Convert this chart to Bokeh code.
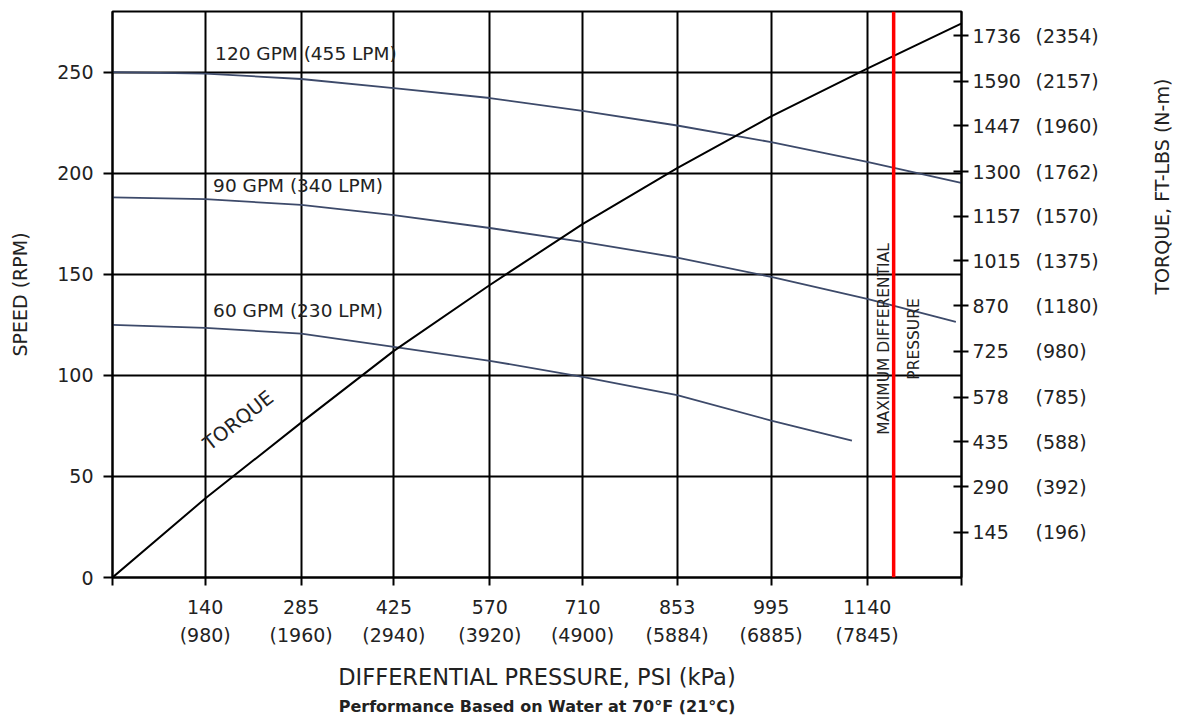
import math
from bokeh.plotting import figure
from bokeh.models import Range1d, LinearAxis, FixedTicker, Label, Span, Title
from bokeh.embed import file_html
from bokeh.resources import INLINE

# ---- data ----
PSI_TICKS = [140, 285, 425, 570, 710, 853, 995, 1140]
KPA_TICKS = [980, 1960, 2940, 3920, 4900, 5884, 6885, 7845]
SPEED_TICKS = [0, 50, 100, 150, 200, 250]
TORQUE_FTLB_TICKS = [145, 290, 435, 578, 725, 870, 1015, 1157, 1300, 1447, 1590, 1736]
TORQUE_NM_LABELS = [196, 392, 588, 785, 980, 1180, 1375, 1570, 1762, 1960, 2157, 2354]

X_120 = [0, 140, 285, 425, 570, 710, 853, 995, 1140, 1282]
S_120 = [250, 249.3, 246.6, 242.1, 237.2, 230.8, 223.6, 215.4, 205.6, 195.2]
X_90 = [0, 140, 285, 425, 570, 710, 853, 995, 1140, 1274]
S_90 = [188.0, 187.2, 184.3, 179.3, 172.9, 166.0, 158.3, 148.7, 137.8, 126.5]
X_60 = [0, 140, 285, 425, 570, 710, 853, 995, 1117]
S_60 = [125, 123.5, 120.6, 114.1, 107.2, 99.3, 90.2, 77.6, 67.7]
X_TORQUE = [0, 140, 285, 425, 570, 710, 853, 995, 1140, 1282]
TORQUE = [0, 253, 496, 726, 937, 1132, 1311, 1477, 1630, 1774]
MAX_DIFF_PSI = 1180

X_MAX = 1282.5
SPEED_MAX = 280
TORQUE_MAX = 1813

FONT = "DejaVu Sans"
TXT = "#222222"

p = figure(width=1186, height=718, x_range=Range1d(0, X_MAX), y_range=Range1d(0, SPEED_MAX),
           output_backend="svg", toolbar_location=None,
           min_border_left=112, min_border_right=223, min_border_top=11, min_border_bottom=140)
p.background_fill_color = "white"
p.border_fill_color = "white"
p.outline_line_color = "black"
p.outline_line_width = 2
p.extra_y_ranges = {"torque": Range1d(0, TORQUE_MAX)}

# grid
p.xgrid.ticker = FixedTicker(ticks=PSI_TICKS)
p.ygrid.ticker = FixedTicker(ticks=SPEED_TICKS[1:])
for g in (p.xgrid[0], p.ygrid[0]):
    g.grid_line_color = "black"
    g.grid_line_width = 2
    g.grid_line_alpha = 1.0

def style_axis(ax):
    ax.axis_line_color = "black"
    ax.axis_line_width = 2
    ax.major_tick_line_color = "black"
    ax.major_tick_line_width = 2
    ax.minor_tick_line_color = None
    ax.major_label_text_font = FONT
    ax.major_label_text_font_size = "19px"
    ax.major_label_text_color = TXT
    ax.axis_label_text_font = FONT
    ax.axis_label_text_font_style = "normal"
    ax.axis_label_text_color = TXT
    ax.axis_label_text_font_size = "19px"

# bottom axis: PSI
xa = p.xaxis[0]
style_axis(xa)
bottom_ticks = [0] + PSI_TICKS + [X_MAX]
xa.ticker = FixedTicker(ticks=bottom_ticks)
ov = {0: "", X_MAX: ""}
for t in PSI_TICKS:
    ov[t] = str(t)
xa.major_label_overrides = ov
xa.major_tick_in = 0
xa.major_tick_out = 8
xa.major_label_standoff = 14

# second bottom axis: kPa
xa2 = LinearAxis(ticker=FixedTicker(ticks=PSI_TICKS))
style_axis(xa2)
xa2.axis_line_color = None
xa2.major_tick_line_color = None
xa2.major_tick_in = 0
xa2.major_tick_out = 0
xa2.major_label_standoff = 7
xa2.major_label_overrides = {t: "(%d)" % k for t, k in zip(PSI_TICKS, KPA_TICKS)}
xa2.axis_label = "DIFFERENTIAL PRESSURE, PSI (kPa)"
xa2.axis_label_text_font_size = "22.5px"
xa2.axis_label_standoff = 15
p.add_layout(xa2, "below")

sub = Title(text="Performance Based on Water at 70°F (21°C)", align="center",
            text_font=FONT, text_font_size="16px", text_font_style="bold", text_color=TXT)
if "standoff" in sub.properties():
    sub.standoff = 5
p.add_layout(sub, "below")

# left axis: speed
ya = p.yaxis[0]
style_axis(ya)
ya.ticker = FixedTicker(ticks=SPEED_TICKS)
ya.major_tick_in = 0
ya.major_tick_out = 9
ya.major_label_standoff = 10
ya.axis_label = "SPEED (RPM)"
ya.axis_label_standoff = 23

# right axes: torque
ra = LinearAxis(y_range_name="torque", ticker=FixedTicker(ticks=TORQUE_FTLB_TICKS))
style_axis(ra)
ra.major_tick_in = 8
ra.major_tick_out = 7
ra.major_label_standoff = 4
ra.major_label_overrides = {t: str(t) for t in TORQUE_FTLB_TICKS}
p.add_layout(ra, "right")

ra2 = LinearAxis(y_range_name="torque", ticker=FixedTicker(ticks=TORQUE_FTLB_TICKS))
style_axis(ra2)
ra2.axis_line_color = None
ra2.major_tick_line_color = None
ra2.major_tick_in = 0
ra2.major_tick_out = 0
ra2.major_label_standoff = 12
ra2.major_label_overrides = {t: "(%d)" % n for t, n in zip(TORQUE_FTLB_TICKS, TORQUE_NM_LABELS)}
ra2.axis_label = "TORQUE, FT-LBS (N-m)"
ra2.axis_label_standoff = 60
if "axis_label_orientation" in ra2.properties():
    ra2.axis_label_orientation = math.pi / 2
p.add_layout(ra2, "right")

# curves
CURVE = "#3d4a6a"
p.line(X_120, S_120, line_color=CURVE, line_width=1.8)
p.line(X_90, S_90, line_color=CURVE, line_width=1.8)
p.line(X_60, S_60, line_color=CURVE, line_width=1.8)
p.line(X_TORQUE, TORQUE, y_range_name="torque", line_color="black", line_width=2)

p.add_layout(Span(location=MAX_DIFF_PSI, dimension="height", line_color="#ff0000", line_width=3.5))

def lab(text, x, y, size="18.5px", angle=0.0, align="left"):
    p.add_layout(Label(x=x, y=y, text=text, text_font=FONT, text_font_size=size,
                       text_color=TXT, angle=angle, text_align=align, text_baseline="middle"))

lab("120 GPM (455 LPM)", 155, 259)
lab("90 GPM (340 LPM)", 152, 194)
lab("60 GPM (230 LPM)", 152, 132)
lab("TORQUE", 190, 77.6, size="19.5px", angle=math.radians(38), align="center")
lab("MAXIMUM DIFFERENTIAL", 1166, 118, size="15.5px", angle=math.pi / 2, align="center")
lab("PRESSURE", 1210, 118, size="15.5px", angle=math.pi / 2, align="center")

open("out.html", "w").write(file_html(p, INLINE))
